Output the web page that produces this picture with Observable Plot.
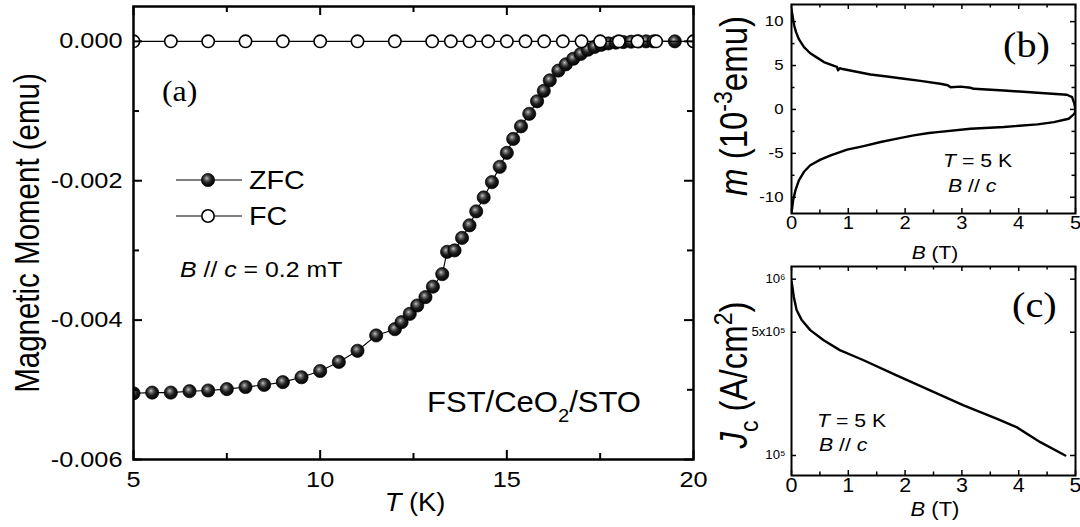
<!DOCTYPE html>
<html>
<head>
<meta charset="utf-8">
<script src="https://cdn.jsdelivr.net/npm/d3@7"></script>
<script src="https://cdn.jsdelivr.net/npm/@observablehq/plot@0.6"></script>
<style>
  body { margin: 0; background: #fff; }
  #fig { position: relative; width: 1080px; height: 527px; overflow: hidden; background: #fff; }
  #fig svg { position: absolute; left: 0; top: 0; overflow: visible; }
</style>
</head>
<body>
<div id="fig"></div>
<script>
// ---------- (a) ZFC / FC magnetic moment versus temperature ----------
const zfcT = [5, 5.5, 6, 6.5, 7, 7.5, 8, 8.5, 9, 9.5, 10, 10.5, 11,
  11.5, 12, 12.18, 12.4, 12.6, 12.82, 13.02, 13.27,
  13.4, 13.6, 13.8, 14, 14.18, 14.38, 14.6, 14.81, 15, 15.17, 15.38, 15.6, 15.81, 15.99,
  16.15, 16.38, 16.58, 16.78, 16.98, 17.17, 17.35, 17.53, 17.72, 17.92, 18.12, 18.33, 18.53, 18.73, 18.93, 19.5];
const zfcM = [-0.00505, -0.00504, -0.00504, -0.00502, -0.00501, -0.00499, -0.00496, -0.00493, -0.00489, -0.00482, -0.00473, -0.00460, -0.00444,
  -0.00422, -0.00413, -0.00403, -0.00391, -0.00379, -0.00367, -0.00352, -0.00334,
  -0.00302, -0.00300, -0.00282, -0.00264, -0.00244, -0.00224, -0.00202, -0.00180, -0.00160, -0.00140, -0.00122, -0.00104, -0.00086, -0.00071,
  -0.00056, -0.00042, -0.00033, -0.00025, -0.00018, -0.00012, -0.00008, -0.00005, -0.00003, -0.000018, -0.00001, -0.000005, -0.000002, 0, 0, 0];
const fcT = [5, 6, 7, 8, 9, 10, 11, 12, 13, 13.5, 14, 14.5, 15, 15.5, 16, 16.5, 17, 17.5, 18, 18.5, 19, 20];
const fcM = [0, 0, 0, 0, 0, 0, 0, 0, 0, 0, 0, 0, 0, 0, 0, 0, 0, 0, 0, 0, 0, 0];
const aTicksX = [5, 10, 15, 20];
const aMinorX = [7.5, 12.5, 17.5];
const aTicksY = [0, -0.002, -0.004, -0.006];
const aMinorY = [-0.001, -0.003, -0.005];

// ---------- (b) m(B) loop at 5 K ----------
const loopB = [0, 0.01, 0.03, 0.05, 0.08, 0.13, 0.22, 0.33, 0.45, 0.57, 0.69, 0.75, 0.8, 0.82, 0.85, 0.9,
  1.10, 1.39, 1.68, 1.98, 2.27, 2.62, 2.75, 2.8, 2.98, 3.15, 3.21, 3.74, 4.33, 4.85, 4.94, 4.98, 5.0,
  4.98, 4.88, 4.62, 4.33, 3.74, 3.15, 2.57, 2.42, 2.15, 1.86, 1.57, 1.27, 0.98, 0.69, 0.51, 0.33, 0.22, 0.13, 0.07, 0.03, 0.01, 0];
const loopM = [11.4, 11.0, 10.2, 9.5, 8.8, 8.0, 7.1, 6.4, 5.9, 5.4, 5.1, 4.95, 4.85, 4.45, 4.7, 4.6,
  4.35, 3.98, 3.75, 3.49, 3.25, 2.92, 2.75, 2.53, 2.6, 2.47, 2.35, 2.16, 1.9, 1.67, 1.4, 0.65, -0.1,
  -0.5, -1.06, -1.44, -1.7, -2.0, -2.2, -2.58, -2.69, -2.95, -3.33, -3.71, -4.17, -4.58, -5.23, -5.72, -6.36, -7.1, -8.07, -9.2, -10.3, -11.3, -11.8];
const bTicksX = [0, 1, 2, 3, 4, 5];
const bMinorX = [0.5, 1.5, 2.5, 3.5, 4.5];
const bTicksY = [-10, -5, 0, 5, 10];
const bMinorY = [-7.5, -2.5, 2.5, 7.5];

// ---------- (c) critical current density at 5 K ----------
const jcB = [0, 0.01, 0.04, 0.09, 0.18, 0.33, 0.56, 0.85, 1.26, 1.85, 2.44, 3.02, 3.61, 3.96, 4.38, 4.82];
const jcJ = [9.7e5, 9.3e5, 7.96e5, 6.68e5, 5.86e5, 5.14e5, 4.52e5, 3.96e5, 3.48e5, 2.85e5, 2.34e5, 1.93e5, 1.62e5, 1.45e5, 1.19e5, 1.0e5];
const cTicksY = [1e5, 5e5, 1e6];
const cTickLabels = ["10\u2075", "5x10\u2075", "10\u2076"];

const SANS = "'Liberation Sans', Arial, Helvetica, sans-serif";
const SERIF = "'Liberation Serif', 'Times New Roman', serif";
const W = 1080, H = 527;

const zfc = zfcT.map((T, i) => ({T, M: zfcM[i]}));
const fc = fcT.map((T, i) => ({T, M: fcM[i]}));
const loop = loopB.map((B, i) => ({B, m: loopM[i]}));
const jc = jcB.map((B, i) => ({B, J: jcJ[i]}));
const cLabels = cTicksY.map((v, i) => ({v, label: cTickLabels[i]}));

// shaded sphere used for the ZFC markers
const ballDefs = () => {
  const defs = d3.create("svg:defs");
  const g = defs.append("radialGradient").attr("id", "ball")
    .attr("cx", "45%").attr("cy", "42%").attr("r", "60%").attr("fx", "40%").attr("fy", "36%");
  g.append("stop").attr("offset", "0%").attr("stop-color", "#c4c4c4");
  g.append("stop").attr("offset", "22%").attr("stop-color", "#707070");
  g.append("stop").attr("offset", "55%").attr("stop-color", "#1e1e1e");
  g.append("stop").attr("offset", "100%").attr("stop-color", "#000");
  return defs.node();
};

// inward ticks on all four sides of a frame
function frameTicks(xs, ys, xd, yd, len, sw) {
  const s = {stroke: "black", strokeWidth: sw};
  return [
    Plot.ruleX(xs, {x: d => d, y1: yd[0], y2: yd[0], insetTop: -len, ...s}),
    Plot.ruleX(xs, {x: d => d, y1: yd[1], y2: yd[1], insetBottom: -len, ...s}),
    Plot.ruleY(ys, {y: d => d, x1: xd[0], x2: xd[0], insetRight: -len, ...s}),
    Plot.ruleY(ys, {y: d => d, x1: xd[1], x2: xd[1], insetLeft: -len, ...s})
  ];
}

// widen glyphs horizontally about their anchor
function stretchText(svg, s) {
  d3.select(svg).selectAll("text").each(function () {
    const t = this.getAttribute("transform") || "";
    const x = parseFloat(this.getAttribute("x")) || 0;
    this.setAttribute("transform", `${t} translate(${x},0) scale(${s},1) translate(${-x},0)`);
  });
}

// rich text with italic parts and sub/superscripts
function addText(svg, o) {
  const t = d3.select(svg).append("text")
    .attr("font-family", o.family || SANS)
    .attr("font-size", o.size)
    .attr("text-anchor", o.anchor || "start")
    .attr("fill", "black")
    .attr("style", "white-space: pre");
  const s = o.stretch || 1;
  if (o.rotate) t.attr("transform", `translate(${o.x},${o.y}) rotate(-90) scale(1,${s})`);
  else t.attr("transform", `translate(${o.x},${o.y}) scale(${s},1)`);
  let prev = 0;
  for (const p of o.parts) {
    const part = typeof p === "string" ? {t: p} : p;
    const off = part.shift ? part.shift * o.size : 0;
    const ts = t.append("tspan").text(part.t).attr("dy", off - prev);
    if (part.italic) ts.attr("font-style", "italic");
    if (part.scale) ts.attr("font-size", o.size * part.scale);
    prev = off;
  }
}

const fig = document.getElementById("fig");
const svgStyle = `background: transparent; overflow: visible; font-family: ${SANS};`;

// ---------- panel (a) ----------
const aX = [5, 20], aY = [-0.006, 0.0005];
const plotA = Plot.plot({
  width: W, height: H,
  marginLeft: 133, marginRight: W - 693, marginTop: 6, marginBottom: H - 459,
  style: svgStyle,
  x: {domain: aX},
  y: {domain: aY},
  marks: [
    ballDefs,
    Plot.line(zfc, {x: "T", y: "M", stroke: "black", strokeWidth: 1.1, clip: true}),
    Plot.dot(zfc, {x: "T", y: "M", r: 6.6, fill: "url(#ball)", stroke: "black", strokeWidth: 0.7, clip: true}),
    Plot.line(fc, {x: "T", y: "M", stroke: "black", strokeWidth: 1.1, clip: true}),
    Plot.dot(fc, {x: "T", y: "M", r: 6.2, fill: "white", stroke: "black", strokeWidth: 1.6, clip: true}),
    ...frameTicks(aTicksX, aTicksY, aX, aY, 9, 2),
    ...frameTicks(aMinorX, aMinorY, aX, aY, 6, 2),
    Plot.frame({stroke: "black", strokeWidth: 2.5}),
    Plot.axisX(aTicksX, {anchor: "bottom", tickSize: 0, tickPadding: 12, fontSize: 22, label: null, tickFormat: d => String(d)}),
    Plot.axisY(aTicksY, {anchor: "left", tickSize: 0, tickPadding: 11, fontSize: 22, label: null, tickFormat: d => d.toFixed(3)})
  ]
});
fig.appendChild(plotA);
stretchText(plotA, 1.15);

addText(plotA, {x: 162, y: 101, size: 29, family: SERIF, stretch: 1.1, parts: ["(a)"]});
// legend
const legA = d3.select(plotA).append("g");
legA.append("line").attr("x1", 176).attr("x2", 242).attr("y1", 180).attr("y2", 180).attr("stroke", "black").attr("stroke-width", 1.1);
legA.append("circle").attr("cx", 208).attr("cy", 180).attr("r", 6.6).attr("fill", "url(#ball)").attr("stroke", "black").attr("stroke-width", 0.7);
legA.append("line").attr("x1", 176).attr("x2", 242).attr("y1", 216).attr("y2", 216).attr("stroke", "black").attr("stroke-width", 1.1);
legA.append("circle").attr("cx", 208).attr("cy", 216).attr("r", 6.2).attr("fill", "white").attr("stroke", "black").attr("stroke-width", 1.6);
addText(plotA, {x: 249, y: 189, size: 25, stretch: 1.15, parts: ["ZFC"]});
addText(plotA, {x: 249, y: 225, size: 25, stretch: 1.15, parts: ["FC"]});
addText(plotA, {x: 180, y: 277, size: 22, stretch: 1.13, parts: [{t: "B", italic: true}, " // ", {t: "c", italic: true}, " = 0.2 mT"]});
addText(plotA, {x: 427, y: 412, size: 29, stretch: 1.07, parts: ["FST/CeO", {t: "2", shift: 0.35, scale: 0.65}, "/STO"]});
addText(plotA, {x: 415, y: 511, size: 26, anchor: "middle", stretch: 1.05, parts: [{t: "T", italic: true}, " (K)"]});
addText(plotA, {x: 39, y: 233, size: 29.5, anchor: "middle", rotate: true, stretch: 1.2, parts: ["Magnetic Moment (emu)"]});

// ---------- panel (b) ----------
const bX = [0, 5], bY = [-11.85, 11.95];
const plotB = Plot.plot({
  width: W, height: H,
  marginLeft: 791, marginRight: W - 1075, marginTop: 4, marginBottom: H - 213,
  style: svgStyle,
  x: {domain: bX},
  y: {domain: bY},
  marks: [
    Plot.line(loop, {x: "B", y: "m", stroke: "black", strokeWidth: 2.4, clip: true}),
    ...frameTicks(bTicksX, bTicksY, bX, bY, 5, 1.5),
    ...frameTicks(bMinorX, bMinorY, bX, bY, 3.5, 1.5),
    Plot.frame({stroke: "black", strokeWidth: 2}),
    Plot.axisX(bTicksX, {anchor: "bottom", tickSize: 0, tickPadding: 3, fontSize: 18, label: null, tickFormat: d => String(d)}),
    Plot.axisY(bTicksY, {anchor: "left", tickSize: 0, tickPadding: 8, fontSize: 15, label: null, tickFormat: d => String(d)})
  ]
});
fig.appendChild(plotB);
stretchText(plotB, 1.12);

addText(plotB, {x: 1003, y: 57, size: 35, family: SERIF, stretch: 1.15, parts: ["(b)"]});
addText(plotB, {x: 943, y: 167, size: 18.5, stretch: 1.15, parts: [{t: "T", italic: true}, " = 5 K"]});
addText(plotB, {x: 948, y: 192, size: 18.5, stretch: 1.15, parts: [{t: "B", italic: true}, " // ", {t: "c", italic: true}]});
addText(plotB, {x: 935, y: 259, size: 19, anchor: "middle", stretch: 1.1, parts: [{t: "B", italic: true}, " (T)"]});
addText(plotB, {x: 747, y: 106, size: 33, anchor: "middle", rotate: true, stretch: 1.15,
  parts: [{t: "m", italic: true}, " (10", {t: "-3", shift: -0.4, scale: 0.7}, {t: "emu)"}]});

// ---------- panel (c) ----------
const cX = [0, 5], cY = [7.7e4, 1.18e6];
const plotC = Plot.plot({
  width: W, height: H,
  marginLeft: 791, marginRight: W - 1075, marginTop: 266, marginBottom: H - 475,
  style: svgStyle,
  x: {domain: cX},
  y: {type: "log", domain: cY, axis: null},
  marks: [
    Plot.line(jc, {x: "B", y: "J", stroke: "black", strokeWidth: 2.4, clip: true}),
    ...frameTicks(bTicksX, cTicksY, cX, cY, 5, 1.5),
    ...frameTicks(bMinorX, [], cX, cY, 3.5, 1.5),
    Plot.frame({stroke: "black", strokeWidth: 2}),
    Plot.axisX(bTicksX, {anchor: "bottom", tickSize: 0, tickPadding: 3, fontSize: 19.5, label: null, tickFormat: d => String(d)}),
    Plot.text(cLabels, {y: "v", text: "label", frameAnchor: "left", textAnchor: "end", dx: -6, fontSize: 12})
  ]
});
fig.appendChild(plotC);
stretchText(plotC, 1.1);

addText(plotC, {x: 1012, y: 317, size: 35, family: SERIF, stretch: 1.15, parts: ["(c)"]});
addText(plotC, {x: 817, y: 427, size: 19, stretch: 1.12, parts: [{t: "T", italic: true}, " = 5 K"]});
addText(plotC, {x: 819, y: 451, size: 19, stretch: 1.12, parts: [{t: "B", italic: true}, " // ", {t: "c", italic: true}]});
addText(plotC, {x: 935, y: 516, size: 20, anchor: "middle", stretch: 1.1, parts: [{t: "B", italic: true}, " (T)"]});
addText(plotC, {x: 747, y: 375, size: 33, anchor: "middle", rotate: true, stretch: 1.15,
  parts: [{t: "J", italic: true}, {t: "c", shift: 0.3, scale: 0.7}, {t: " (A/cm"}, {t: "2", shift: -0.4, scale: 0.7}, {t: ")"}]});
</script>
</body>
</html>
